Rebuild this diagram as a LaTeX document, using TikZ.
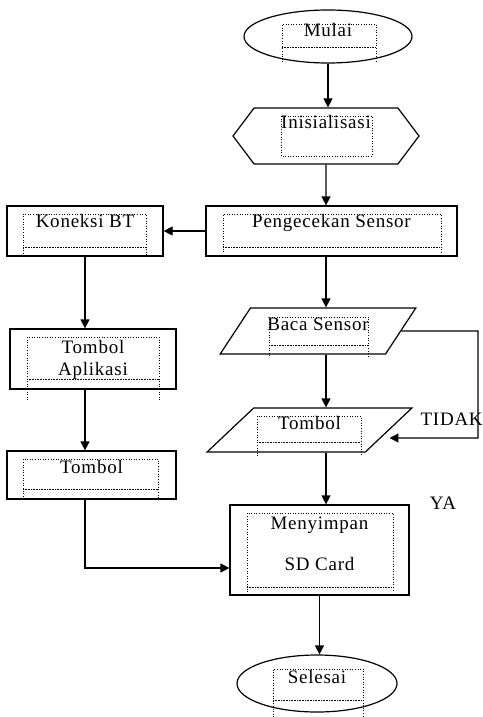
\documentclass[tikz,border=0pt]{standalone}
\usepackage{fontspec}
\setmainfont{Liberation Serif}[LetterSpace=4]
\usepackage{tikz}
\usetikzlibrary{arrows,arrows.meta,shapes.geometric,shapes.symbols}

\begin{document}
\begin{tikzpicture}[x=1pt,y=-1pt,>={Triangle[width=9pt,length=9pt]},line width=1.2pt,
	every node/.style={font=\fontsize{19}{22}\selectfont,inner sep=0pt},
	term/.style={draw,ellipse},
	proc/.style={draw,rectangle},
	io/.style={draw,trapezium,trapezium stretches=true},
	prep/.style={draw,signal,signal to=west and east},
	lift/.style={text height=13pt,text depth=#1},
	tbox/.style={dotted,line width=.6pt},
	tline/.style={densely dotted,line width=.6pt}]
	\useasboundingbox (0,0) rectangle (482,717);

	\node[term,minimum width=168pt,minimum height=53pt,lift=12pt] (n1) at (328,36.5) {Mulai};
	\node[prep,signal pointer angle=106,minimum width=186pt,minimum height=56pt,lift=28pt] (n2) at (326,136) {Inisialisasi};
	\node[proc,minimum width=251pt,minimum height=50pt,lift=20pt] (n3) at (331.5,231) {Pengecekan Sensor};
	\node[proc,minimum width=156pt,minimum height=50pt,lift=20pt] (n4) at (85,231) {Koneksi BT};
	\node[proc,minimum width=166pt,minimum height=60pt,align=center,text height=34pt,text depth=2pt] (n5) at (93,359) {Tombol\\Aplikasi};
	\node[proc,minimum width=169pt,minimum height=48pt,lift=17pt] (n6) at (91.5,475) {Tombol};
	\node[io,trapezium left angle=51,trapezium right angle=129,minimum width=196pt,minimum height=46pt,lift=15pt] (n7) at (318,331) {Baca Sensor};
	\node[io,trapezium left angle=47,trapezium right angle=133,minimum width=205pt,minimum height=44pt,lift=15pt] (n8) at (309.5,430) {Tombol};
	\node[proc,minimum width=179pt,minimum height=90pt,align=center,text height=53pt,text depth=13pt] (n9) at (319.5,550) {Menyimpan\\[19pt]SD Card};
	\node[term,minimum width=160pt,minimum height=57pt,lift=14pt] (n10) at (317,683.5) {Selesai};
	\node[anchor=west] (tidak) at (420,419) {TIDAK};
	\node (ya) at (443,503) {YA};
	\coordinate (back) at (478,331);

	% text frames
	\draw[tbox] (282,62) |- (376,24) -- (376,62); \draw[tline] (282,47) -- (376,47);
	\draw[tbox] (281,116) rectangle (372,156);
	\draw[tbox] (223,252) |- (441,214) -- (441,252); \draw[tline] (223,247) -- (441,247);
	\draw[tbox] (23,256) |- (146,214) -- (146,256); \draw[tline] (23,247) -- (146,247);
	\draw[tbox] (269,356) |- (368,317) -- (368,356); \draw[tline] (269,345) -- (368,345);
	\draw[tbox] (27,400) |- (159,337) -- (159,400); \draw[tline] (27,379) -- (159,379);
	\draw[tbox] (23,499) |- (158,459) -- (158,499); \draw[tline] (23,489) -- (158,489);
	\draw[tbox] (257,456) |- (361,416) -- (361,456); \draw[tline] (257,442) -- (361,442);
	\draw[tbox] (247,592) |- (393,513) -- (393,592); \draw[tline] (247,587) -- (393,587);
	\draw[tbox] (273,717) |- (363,669) -- (363,717); \draw[tline] (273,700) -- (363,700);

	\draw[->] (n1) -- (n1 |- n2.north);
	\draw[->] (n2) -- (n2 |- n3.north);
	\draw[->] (n3) -- (n4);
	\draw[->] (n3.south -| n2) -- (n7.north -| n2);
	\draw[->] (n7.south -| n2) -- (n8.north -| n2);
	\draw[->] (n8.south -| n2) -- (n9.north -| n2);
	\draw[->] (n9) -- (n9 |- n10.north);
	\draw[->] (n4) -- (n4 |- n5.north);
	\draw[->] (n5.south -| n4) -- (n6.north -| n4);
	\draw[->] (n6.south -| n4) |- ([yshift=-18pt]n9.west);
	\draw[->] (n7.east) -- (back) |- ([yshift=-8pt]n8.east);

	\end{tikzpicture}
\end{document}
